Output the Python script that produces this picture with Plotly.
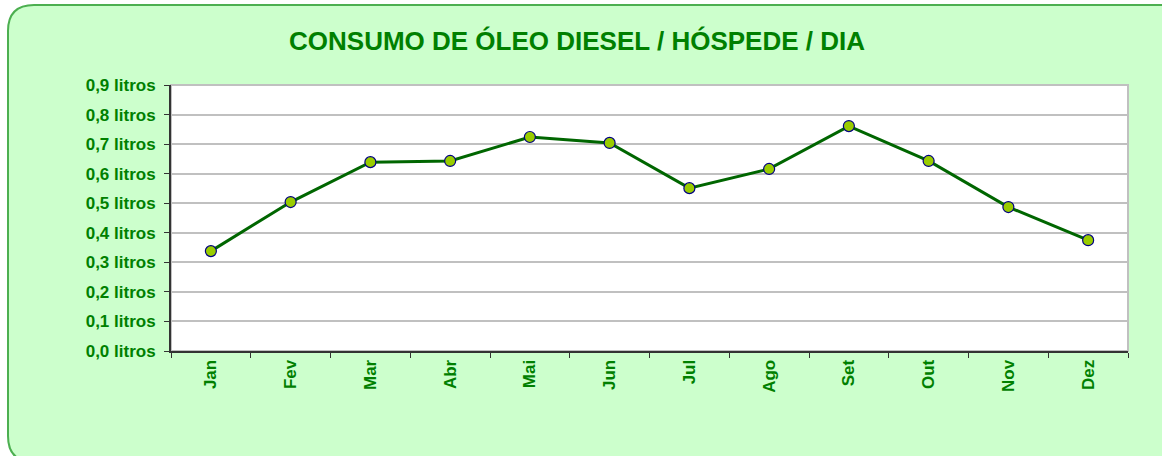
import plotly.graph_objects as go

months = ["Jan", "Fev", "Mar", "Abr", "Mai", "Jun", "Jul", "Ago", "Set", "Out", "Nov", "Dez"]
litros = [0.338, 0.504, 0.639, 0.643, 0.724, 0.704, 0.551, 0.616, 0.761, 0.643, 0.487, 0.375]
y_ticks = [0.0, 0.1, 0.2, 0.3, 0.4, 0.5, 0.6, 0.7, 0.8, 0.9]
y_labels = [f"{v:.1f}".replace(".", ",") + " litros" for v in y_ticks]
title_text = "CONSUMO DE ÓLEO DIESEL / HÓSPEDE / DIA"

W, H = 1162, 456
L, R, T, B = 171, 1128, 85, 351
GREEN = "#008000"
FONT = "Liberation Sans, Arial, sans-serif"


def px(x):
    return (x - L) / (R - L)


def py(y):
    return (B - y) / (B - T)


# rounded background panel path (pixel coords -> paper)
x0, y0, x1, y1, r = 8, 5, 1180, 462, 26
pts = (
    f"M {px(x0)},{py(y1 - r)} "
    f"L {px(x0)},{py(y0 + r)} "
    f"Q {px(x0)},{py(y0)} {px(x0 + r)},{py(y0)} "
    f"L {px(x1)},{py(y0)} "
    f"L {px(x1)},{py(y1)} "
    f"L {px(x0 + r)},{py(y1)} "
    f"Q {px(x0)},{py(y1)} {px(x0)},{py(y1 - r)} Z"
)

fig = go.Figure()
fig.add_trace(go.Scatter(
    x=months, y=litros, mode="lines+markers",
    line=dict(color="#006600", width=3),
    marker=dict(size=11, color="#99CC00", line=dict(color="#000080", width=1.2)),
    hoverinfo="x+y", showlegend=False,
))

fig.update_layout(
    width=W, height=H,
    margin=dict(l=L, r=W - R, t=T, b=H - B, autoexpand=False),
    paper_bgcolor="white",
    plot_bgcolor="rgba(0,0,0,0)",
    font=dict(family=FONT, color=GREEN),
    title=dict(
        text=title_text, x=577 / W, xanchor="center", xref="container",
        y=1 - 41 / H, yanchor="middle", yref="container",
        font=dict(family=FONT, size=26, color=GREEN, weight=700),
    ),
    shapes=[
        dict(type="path", path=pts, xref="paper", yref="paper", layer="below",
             fillcolor="#CCFFCC", line=dict(color="#4CAF50", width=2)),
        dict(type="rect", xref="paper", yref="paper", x0=0, y0=0, x1=1, y1=1,
             layer="below", fillcolor="white", line=dict(color="#C0C0C0", width=2)),
    ],
    xaxis=dict(
        type="category", range=[-0.5, 11.5], tickson="boundaries",
        ticks="outside", ticklen=5, tickcolor="#333333", tickwidth=1,
        showline=True, linecolor="#333333", linewidth=2,
        showgrid=False, tickangle=-90,
        tickfont=dict(family=FONT, size=17, color=GREEN, weight=700),
    ),
    yaxis=dict(
        range=[0, 0.9], tickvals=y_ticks, ticktext=y_labels,
        ticks="outside", ticklen=5, tickcolor="#333333", tickwidth=1,
        showline=True, linecolor="#333333", linewidth=2,
        showgrid=True, gridcolor="#C0C0C0", gridwidth=1.5,
        zeroline=False, ticklabelstandoff=5,
        tickfont=dict(family=FONT, size=17, color=GREEN, weight=700),
    ),
)

fig.write_html("out.html", config={"displayModeBar": False},
               post_script="document.body.style.margin='0';document.body.style.padding='0';")
